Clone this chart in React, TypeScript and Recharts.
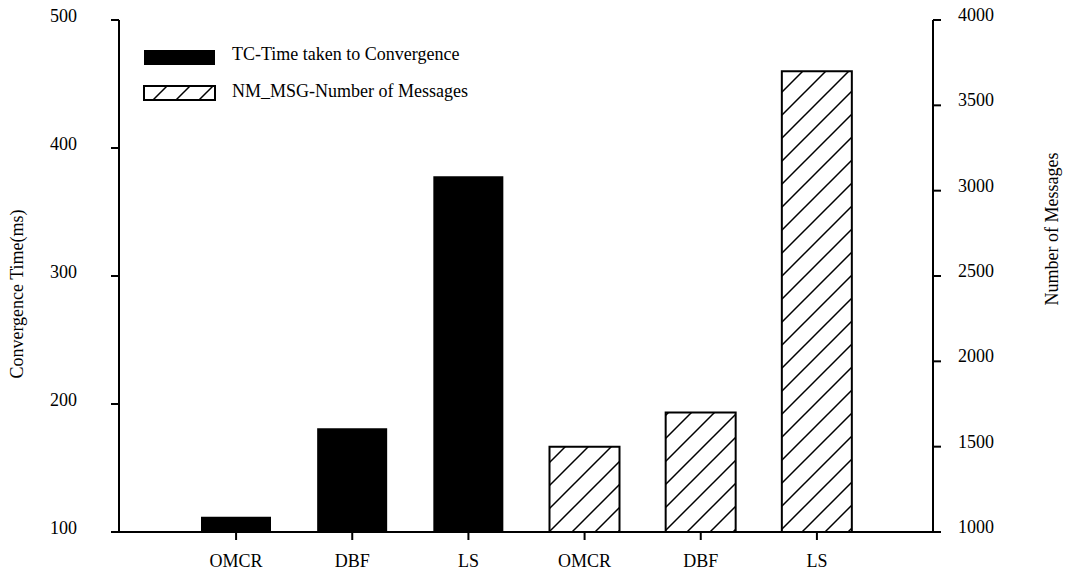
import React from 'react';
import { ComposedChart, Bar, XAxis, YAxis, Legend } from 'recharts';

// Routing protocols compared
const methods = ['OMCR', 'DBF', 'LS'];
// Time taken to convergence (ms), left axis
const convergenceMs = [112, 181, 378];
// Number of messages exchanged, right axis
const messageCounts = [1500, 1700, 3700];

const leftTicks = [100, 200, 300, 400, 500];
const rightTicks = [1000, 1500, 2000, 2500, 3000, 3500, 4000];

const TC_NAME = 'TC-Time taken to Convergence';
const NM_NAME = 'NM_MSG-Number of Messages';

const rows = [
  ...methods.map((m, i) => ({ slot: `tc-${m}`, label: m, tc: convergenceMs[i], nm: null as number | null })),
  ...methods.map((m, i) => ({ slot: `nm-${m}`, label: m, tc: null as number | null, nm: messageCounts[i] })),
];
const labelBySlot: Record<string, string> = Object.fromEntries(rows.map((r) => [r.slot, r.label]));

const FONT = '"Liberation Serif", "Times New Roman", Times, serif';
const FS = 18;
const AXIS = { stroke: '#000', strokeWidth: 2 };

const CategoryTick = (props: any) => {
  const { x, y, payload } = props;
  return (
    <text x={x} y={y} dy={27} textAnchor="middle" fontFamily={FONT} fontSize={FS} fill="#000">
      {labelBySlot[payload.value] ?? payload.value}
    </text>
  );
};

const LeftTick = (props: any) => {
  const { x, y, payload } = props;
  return (
    <text x={x} y={y + 2} textAnchor="end" fontFamily={FONT} fontSize={FS} fill="#000">
      {payload.value}
    </text>
  );
};

const RightTick = (props: any) => {
  const { x, y, payload } = props;
  return (
    <text x={x} y={y + 1} textAnchor="start" fontFamily={FONT} fontSize={FS} fill="#000">
      {payload.value}
    </text>
  );
};

const AxisTitle = (props: any) => {
  const { viewBox, value, dx, dy } = props;
  const vb = viewBox || { x: 0, y: 0, width: 0, height: 0 };
  const cx = vb.x + dx;
  const cy = vb.y + vb.height / 2 + dy;
  return (
    <text
      transform={`translate(${cx},${cy}) rotate(-90)`}
      textAnchor="middle"
      fontFamily={FONT}
      fontSize={FS}
      fill="#000"
    >
      {value}
    </text>
  );
};

const HatchPattern = ({ id }: { id: string }) => (
  <pattern id={id} patternUnits="userSpaceOnUse" width={23} height={23}>
    <rect width={23} height={23} fill="#fff" />
    <path d="M0,23 L23,0 M-6,6 L6,-6 M17,29 L29,17" stroke="#000" strokeWidth={1.5} />
  </pattern>
);

const LegendBox = (props: any) => {
  const payload = props.payload || [];
  const tc = payload.find((p: any) => p.dataKey === 'tc');
  const nm = payload.find((p: any) => p.dataKey === 'nm');
  return (
    <svg width={480} height={110} style={{ display: 'block' }}>
      <defs>
        <HatchPattern id="hatchLegend" />
      </defs>
      <rect x={144} y={50} width={71} height={15} fill="#000" />
      <text x={232} y={60} fontFamily={FONT} fontSize={FS} fill="#000">
        {tc ? tc.value : TC_NAME}
      </text>
      <rect x={144} y={86} width={71} height={14} fill="url(#hatchLegend)" stroke="#000" strokeWidth={2} />
      <text x={232} y={97} fontFamily={FONT} fontSize={FS} fill="#000">
        {nm ? nm.value : NM_NAME}
      </text>
    </svg>
  );
};

export default function App() {
  return (
    <div style={{ position: 'absolute', left: 0, top: 0, width: 1068, height: 573, background: '#fff' }}>
      <ComposedChart
        width={1068}
        height={573}
        data={rows}
        margin={{ top: 20, right: 0, bottom: 0, left: 0 }}
        barCategoryGap={0}
      >
        <defs>
          <HatchPattern id="hatchBars" />
        </defs>
        <XAxis
          xAxisId="tcx"
          dataKey="slot"
          type="category"
          height={41}
          padding={{ left: 59, right: 58 }}
          axisLine={AXIS}
          tickLine={AXIS}
          tickSize={8}
          tickMargin={0}
          tick={<CategoryTick />}
          interval={0}
        />
        <XAxis
          xAxisId="nmx"
          dataKey="slot"
          type="category"
          hide
          height={0}
          padding={{ left: 59, right: 58 }}
        />
        <YAxis
          yAxisId="left"
          orientation="left"
          width={119}
          domain={[100, 500]}
          ticks={leftTicks}
          type="number"
          axisLine={AXIS}
          tickLine={AXIS}
          tickSize={8}
          tickMargin={34}
          tick={<LeftTick />}
          interval={0}
          label={<AxisTitle value="Convergence Time(ms)" dx={23} dy={18} />}
        />
        <YAxis
          yAxisId="right"
          orientation="right"
          width={135}
          domain={[1000, 4000]}
          ticks={rightTicks}
          type="number"
          axisLine={AXIS}
          tickLine={AXIS}
          tickSize={8}
          tickMargin={17}
          tick={<RightTick />}
          interval={0}
          label={<AxisTitle value="Number of Messages" dx={125} dy={-47} />}
        />
        <Legend
          layout="vertical"
          align="center"
          verticalAlign="middle"
          content={<LegendBox />}
          wrapperStyle={{ left: 0, top: 0, width: 480, height: 110 }}
        />
        <Bar
          xAxisId="tcx"
          yAxisId="left"
          dataKey="tc"
          name={TC_NAME}
          fill="#000"
          barSize={70}
          isAnimationActive={false}
        />
        <Bar
          xAxisId="nmx"
          yAxisId="right"
          dataKey="nm"
          name={NM_NAME}
          fill="url(#hatchBars)"
          stroke="#000"
          strokeWidth={2}
          barSize={70}
          isAnimationActive={false}
        />
      </ComposedChart>
    </div>
  );
}
